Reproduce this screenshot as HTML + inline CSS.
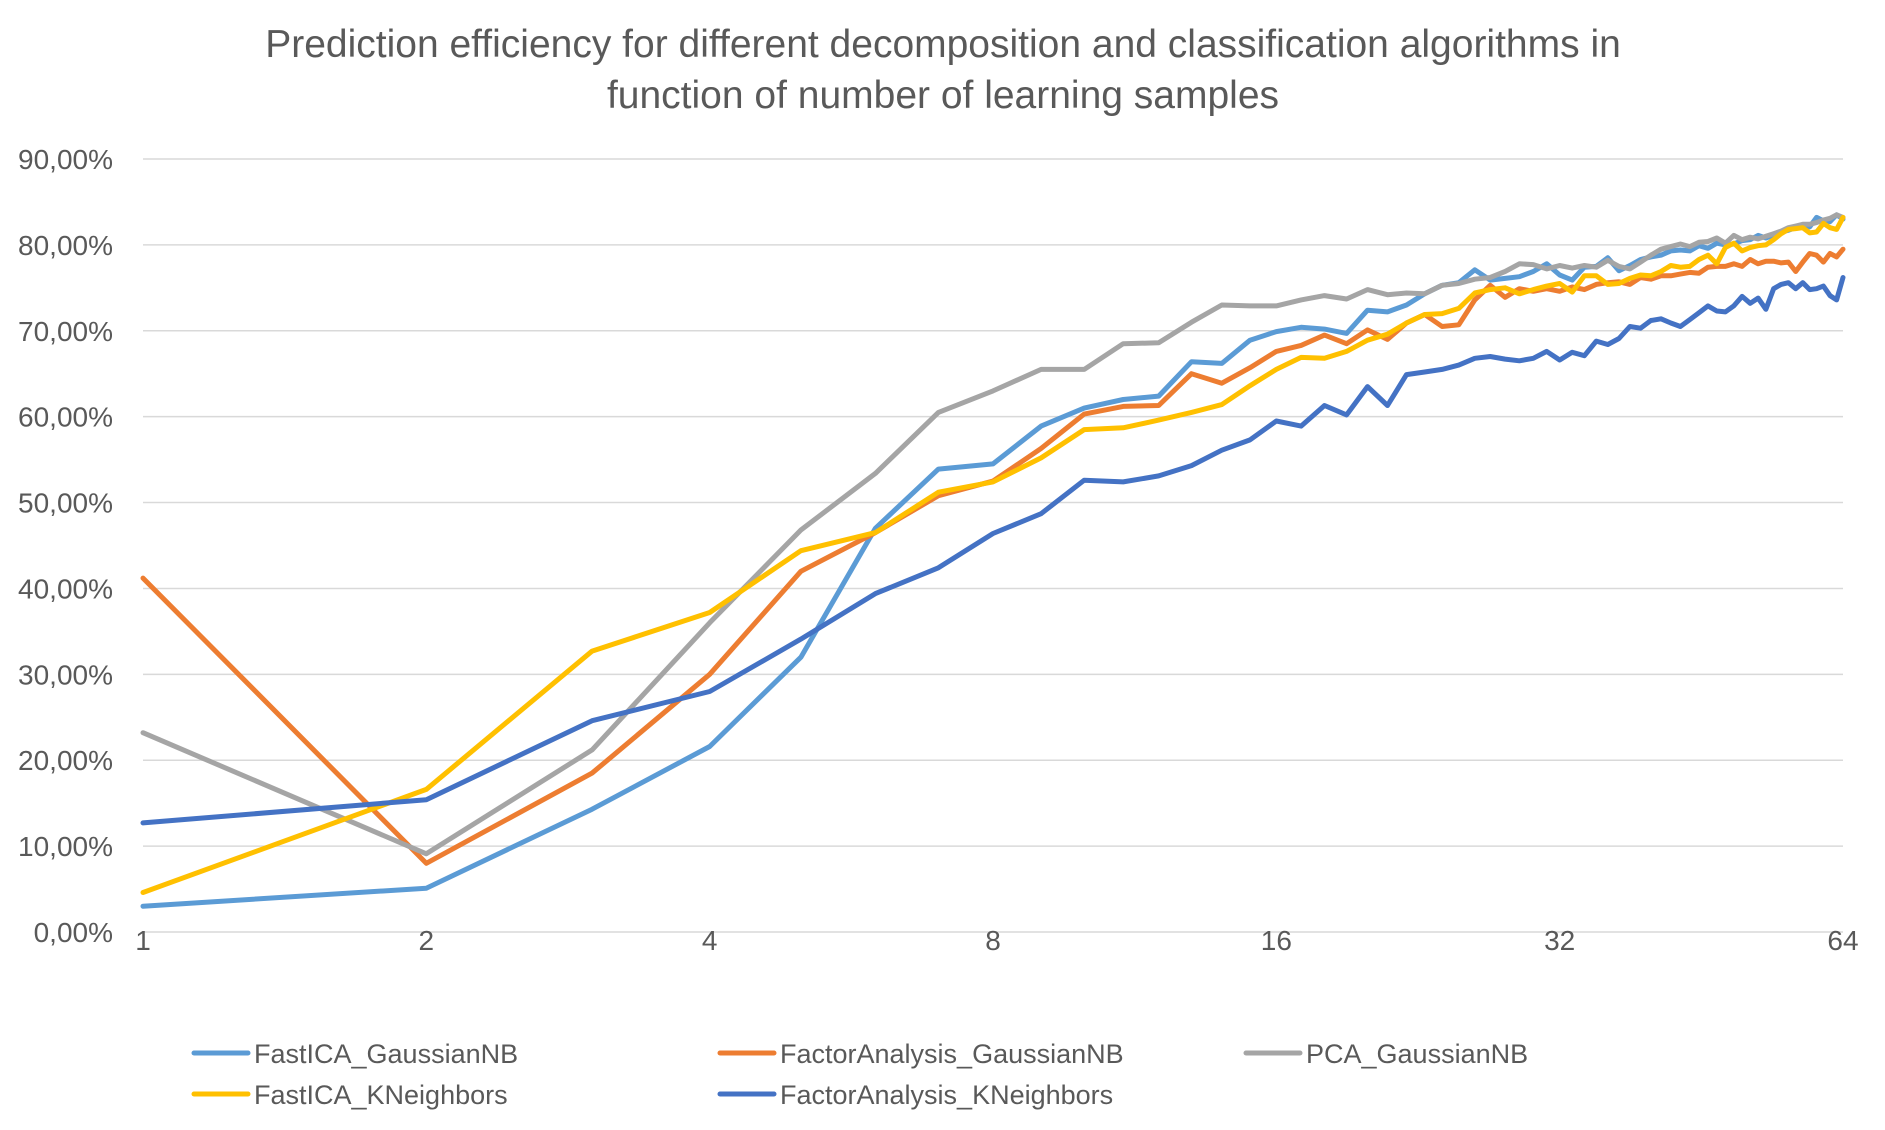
<!DOCTYPE html>
<html><head><meta charset="utf-8"><style>
html,body{margin:0;padding:0;background:#fff;}
svg{display:block;font-family:"Liberation Sans",sans-serif;}
</style></head><body>
<svg id="chart" width="1885" height="1130" viewBox="0 0 1885 1130">
<text x="943" y="57" text-anchor="middle" font-size="39" fill="#595959">Prediction efficiency for different decomposition and classification algorithms in</text>
<text x="943" y="108" text-anchor="middle" font-size="39" fill="#595959">function of number of learning samples</text>
<g id="grid"></g><g id="yt"></g><g id="xt"></g><g id="series"></g><g id="legend"></g>
</svg>
<script>
const yTicks=[0,10,20,30,40,50,60,70,80,90];
const yTickLabels=["0,00%","10,00%","20,00%","30,00%","40,00%","50,00%","60,00%","70,00%","80,00%","90,00%"];
const xTicks=[1,2,4,8,16,32,64];
const seriesNames=["FastICA_GaussianNB","FactorAnalysis_GaussianNB","PCA_GaussianNB","FastICA_KNeighbors","FactorAnalysis_KNeighbors"];
const seriesColors=["#5B9BD5","#ED7D31","#A5A5A5","#FFC000","#4472C4"];
const fastIcaGnb=[3.0,5.1,14.3,21.6,32,47,53.9,54.5,58.9,61,62,62.4,66.4,66.2,68.9,69.9,70.4,70.2,69.7,72.4,72.2,73,74.3,75.3,75.6,77.1,75.9,76.1,76.3,76.9,77.8,76.5,75.9,77.4,77.5,78.5,77,77.6,78.3,78.6,78.8,79.3,79.4,79.3,79.9,79.6,80.2,80,80.1,80.5,80.6,81.1,80.8,81.1,81.5,81.7,82,82.2,82.1,83.2,82.8,82.7,83.5,83];
const faGnb=[41.2,8,18.5,30,42,46.5,50.8,52.5,56.3,60.3,61.2,61.3,65,63.9,65.7,67.6,68.3,69.5,68.5,70.1,69,70.9,71.9,70.5,70.7,73.6,75.3,73.9,74.9,74.6,74.9,74.6,75.1,74.8,75.4,75.6,75.7,75.4,76.2,76,76.4,76.4,76.6,76.8,76.7,77.4,77.5,77.5,77.8,77.5,78.3,77.8,78.1,78.1,77.9,78,76.9,78,79,78.8,78,79,78.6,79.5];
const pcaGnb=[23.2,9.1,21.2,36,46.8,53.4,60.5,63,65.5,65.5,68.5,68.6,71,73,72.9,72.9,73.6,74.1,73.7,74.8,74.2,74.4,74.3,75.3,75.5,76,76.2,76.9,77.8,77.7,77.2,77.6,77.3,77.6,77.4,78.2,77.5,77.2,78,78.8,79.5,79.8,80.1,79.8,80.3,80.4,80.8,80.2,81.1,80.6,80.9,80.7,81,81.3,81.6,82,82.2,82.4,82.4,82.6,82.9,83.1,83.5,83.2];
const fastIcaKnn=[4.6,16.6,32.7,37.2,44.4,46.5,51.2,52.4,55.2,58.5,58.7,59.6,60.5,61.4,63.6,65.5,66.9,66.8,67.6,68.9,69.6,70.9,71.9,72,72.6,74.4,74.8,75,74.3,74.8,75.2,75.5,74.5,76.4,76.4,75.4,75.5,76.1,76.5,76.4,76.9,77.6,77.4,77.5,78.3,78.8,77.8,79.7,80.2,79.3,79.7,79.9,80,80.6,81.3,81.8,81.9,82,81.4,81.5,82.5,82,81.8,83.2];
const faKnn=[12.7,15.4,24.6,28,34.1,39.4,42.4,46.4,48.7,52.6,52.4,53.1,54.3,56.1,57.3,59.5,58.9,61.3,60.2,63.5,61.3,64.9,65.2,65.5,66,66.8,67,66.7,66.5,66.8,67.6,66.6,67.5,67.1,68.8,68.4,69.1,70.5,70.3,71.2,71.4,70.9,70.5,71.3,72.1,72.9,72.3,72.2,72.9,74,73.2,73.8,72.5,74.9,75.4,75.6,74.9,75.6,74.8,74.9,75.2,74.1,73.6,76.2];
const allSeries=[fastIcaGnb,faGnb,pcaGnb,fastIcaKnn,faKnn];

const NS="http://www.w3.org/2000/svg";
const X0=143,X1=1843,Y0=932,Y90=159;
function xs(n){return X0+(X1-X0)*Math.log2(n)/6;}
function ys(v){return Y0-(Y0-Y90)*v/90;}
function mk(t,a,p){const e=document.createElementNS(NS,t);for(const k in a)e.setAttribute(k,a[k]);p.appendChild(e);return e;}
const grid=document.getElementById('grid'),yt=document.getElementById('yt'),xt=document.getElementById('xt'),sg=document.getElementById('series'),lg=document.getElementById('legend');
yTicks.forEach((v,i)=>{
 const l=mk('line',{x1:X0,x2:X1,y1:ys(v),y2:ys(v),stroke:'#D9D9D9','stroke-width':1.5},grid);
 
 
 const t=mk('text',{x:113,y:ys(v)+10,'text-anchor':'end','font-size':28,fill:'#595959'},yt);
 t.textContent=yTickLabels[i];
 
 
});
xTicks.forEach(n=>{
 const t=mk('text',{x:xs(n),y:950,'text-anchor':'middle','font-size':28,fill:'#595959'},xt);
 t.textContent=n;
 
 
});
allSeries.forEach((d,si)=>{
 const pts=d.map((v,i)=>xs(i+1).toFixed(1)+','+ys(v).toFixed(1)).join(' ');
 const p=mk('polyline',{points:pts,fill:'none',stroke:seriesColors[si],'stroke-width':5,'stroke-linejoin':'round','stroke-linecap':'round'},sg);
 
 
});
const legPos=[[194,1053],[720,1053],[1246,1053],[194,1094],[720,1094]];
seriesNames.forEach((nm,i)=>{
 const [lx,ly]=legPos[i];
 const g=mk('g',{},lg);
 
 
 mk('line',{x1:lx,x2:lx+54,y1:ly,y2:ly,stroke:seriesColors[i],'stroke-width':5,'stroke-linecap':'round'},g);
 const t=mk('text',{x:lx+60,y:ly+10,'font-size':27,fill:'#595959'},g);
 t.textContent=nm;
});
</script>
</body></html>
